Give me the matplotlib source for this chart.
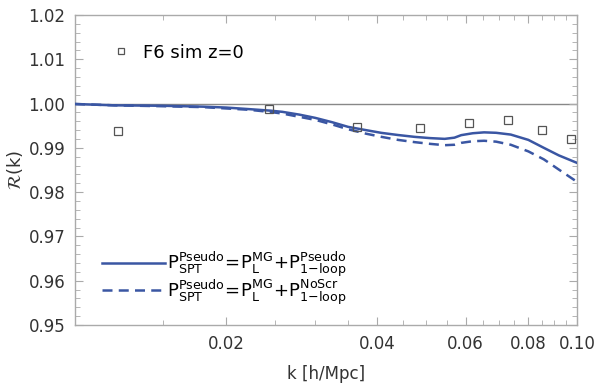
import matplotlib
matplotlib.use('Agg')
import matplotlib.pyplot as plt
from matplotlib.ticker import FixedLocator, MultipleLocator, NullFormatter

plt.rcParams['mathtext.fontset'] = 'dejavusans'

# simulation points (F6, z=0)
k_sim = [0.0122, 0.0243, 0.0365, 0.0487, 0.0608, 0.0730, 0.0851, 0.0973]
r_sim = [0.9939, 0.99887, 0.9948, 0.9944, 0.99571, 0.9962, 0.9941, 0.9919]

# P_SPT^Pseudo = P_L^MG + P_1-loop^Pseudo (solid)
k_line = [0.0100, 0.0120, 0.0150, 0.0180, 0.0200, 0.0222, 0.0245, 0.0259,
          0.0280, 0.0301, 0.0325, 0.0350, 0.0380, 0.0408, 0.0440, 0.0475,
          0.0510, 0.0545, 0.0570, 0.0588, 0.0620, 0.0653, 0.0690, 0.0738,
          0.0800, 0.0859, 0.0920, 0.1000]
r_pseudo = [0.9999, 0.9996, 0.9995, 0.9993, 0.9991, 0.99875, 0.9984, 0.99813,
            0.9975, 0.99677, 0.9958, 0.99474, 0.9940, 0.99338, 0.9929, 0.99248,
            0.9922, 0.99203, 0.9923, 0.99287, 0.9933, 0.9935, 0.9934, 0.9930,
            0.9918, 0.9900, 0.9883, 0.98661]
# P_SPT^Pseudo = P_L^MG + P_1-loop^NoScr (dashed)
r_noscr = [0.9999, 0.9996, 0.9994, 0.9992, 0.9989, 0.9986, 0.9981, 0.99774,
           0.9970, 0.99632, 0.9953, 0.9942, 0.9932, 0.99248, 0.9918, 0.99129,
           0.9909, 0.9906, 0.9907, 0.99113, 0.9915, 0.9916, 0.9914, 0.9907,
           0.9892, 0.9874, 0.9851, 0.98233]

xticks = [0.02, 0.04, 0.06, 0.08, 0.10]
xtick_labels = ['0.02', '0.04', '0.06', '0.08', '0.10']
xminor = [0.015, 0.025, 0.03, 0.035, 0.045, 0.05, 0.055, 0.065, 0.07, 0.075,
          0.085, 0.09, 0.095]

blue = '#3a56a3'
frame = '#aaaaaa'

fig = plt.figure(figsize=(6, 3.88), dpi=100)
ax = fig.add_axes([75 / 600, 1 - 325 / 388, 502 / 600, 310 / 388])

ax.axhline(1.0, color='#888888', lw=1.0, zorder=1)
ax.plot(k_line, r_pseudo, color=blue, lw=1.8, zorder=3,
        label=r'$\mathrm{P^{Pseudo}_{SPT}\!=\!P^{MG}_{L}\!+\!P^{Pseudo}_{1{-}loop}}$')
ax.plot(k_line, r_noscr, color=blue, lw=1.8, ls=(0, (4, 2.5)), zorder=3,
        label=r'$\mathrm{P^{Pseudo}_{SPT}\!=\!P^{MG}_{L}\!+\!P^{NoScr}_{1{-}loop}}$')
pts, = ax.plot(k_sim, r_sim, ls='none', marker='s', ms=6, mfc='none',
               mec='#555555', mew=0.9, zorder=4)

ax.set_xscale('log')
ax.set_xlim(0.01, 0.1)
ax.set_ylim(0.95, 1.02)

ax.xaxis.set_major_locator(FixedLocator(xticks))
ax.set_xticklabels(xtick_labels)
ax.xaxis.set_minor_locator(FixedLocator(xminor))
ax.xaxis.set_minor_formatter(NullFormatter())
ax.yaxis.set_major_locator(MultipleLocator(0.01))
ax.yaxis.set_minor_locator(MultipleLocator(0.002))
ax.yaxis.set_major_formatter(matplotlib.ticker.FormatStrFormatter('%.2f'))

for s in ax.spines.values():
    s.set_color(frame)
    s.set_linewidth(1.0)
ax.tick_params(which='both', direction='in', color=frame, top=True, right=True,
               labelcolor='#333333', labelsize=12)
ax.tick_params(which='major', length=6, width=0.8, pad=7)
ax.tick_params(which='minor', length=3.5, width=0.6)

ax.set_xlabel('k [h/Mpc]', fontsize=12, color='#333333', labelpad=9)
ax.set_ylabel(r'$\mathcal{R}$(k)', fontsize=13, color='#333333', labelpad=2)

leg1 = ax.legend([pts], ['F6 sim z=0'], loc='upper left',
                 bbox_to_anchor=(0.042, 0.96), frameon=False, fontsize=13,
                 markerscale=0.7, handletextpad=0.7, handlelength=1.0)
ax.add_artist(leg1)
ax.legend(loc='lower left', bbox_to_anchor=(0.022, 0.006), frameon=False,
          fontsize=13, handlelength=3.5, handletextpad=0.1, labelspacing=-0.1)

fig.savefig('out.png', dpi=100)
